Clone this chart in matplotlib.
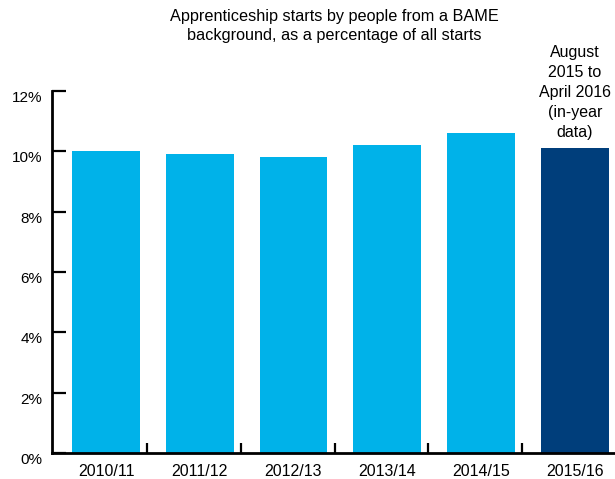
import matplotlib
matplotlib.use("Agg")
from matplotlib import pyplot as plt
from matplotlib.transforms import ScaledTranslation
import numpy as np

plt.rcParams['font.family'] = ['Liberation Sans', 'DejaVu Sans']

# 데이터
years = ['2010/11', '2011/12', '2012/13', '2013/14', '2014/15', '2015/16']
bame_share = [10.0, 9.9, 9.8, 10.2, 10.6, 10.1]
bar_colors = ['#00B2E9'] * 5 + ['#003E7B']
y_ticks = [0, 2, 4, 6, 8, 10, 12]

fig = plt.figure(figsize=(6.15, 4.79), dpi=100)
ax = fig.add_axes([0.0846, 0.0543, 0.9154, 0.7557])

x = np.arange(len(years))
ax.bar(x, bame_share, width=0.725, color=bar_colors, zorder=1)

ax.set_xlim(-0.576, 5.43)
ax.set_ylim(0, 12)

# 축 스타일
for side in ['top', 'right']:
    ax.spines[side].set_visible(False)
for side in ['left', 'bottom']:
    ax.spines[side].set_linewidth(2)
    ax.spines[side].set_zorder(3)

ax.set_yticks(y_ticks)
ax.set_yticklabels([f'{t}%' for t in y_ticks], fontsize=11)
ax.tick_params(axis='y', direction='in', length=10, width=1.6, pad=7)
# y 라벨을 살짝 아래로
shift = ScaledTranslation(0, -4 / 72, fig.dpi_scale_trans)
for lbl in ax.get_yticklabels():
    lbl.set_transform(lbl.get_transform() + shift)

ax.set_xticks(x)
ax.set_xticklabels(years, fontsize=11.5)
ax.set_xticks(x[:-1] + 0.44, minor=True)
ax.tick_params(axis='x', which='major', length=0, pad=8)
ax.tick_params(axis='x', which='minor', direction='in', length=7, width=1.6)

# 제목, 메모
fig.text(0.544, 0.981, 'Apprenticeship starts by people from a BAME\nbackground, as a percentage of all starts',
         ha='center', va='top', fontsize=11.7, linespacing=1.35)
ax.text(5, 10.37, 'August\n2015 to\nApril 2016\n(in-year\ndata)', ha='center', va='bottom',
        fontsize=11.5, linespacing=1.42)

fig.savefig('out.png', dpi=100)
